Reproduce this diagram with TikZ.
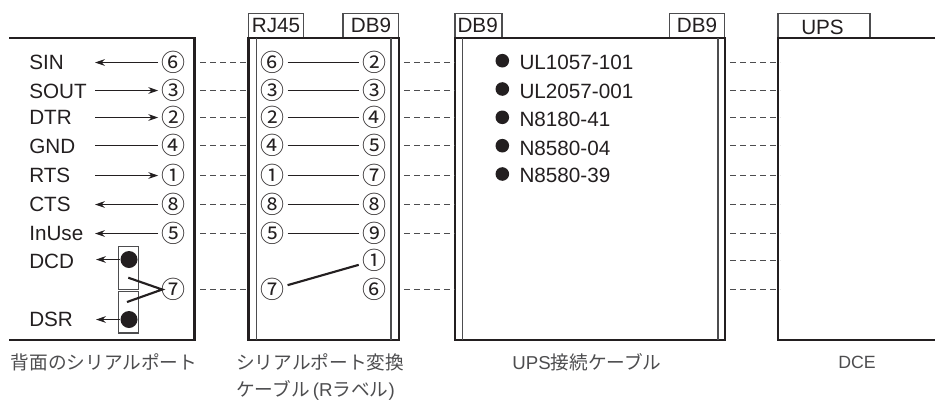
\documentclass[tikz,border=0pt]{standalone}
\usepackage{fontspec}
\setmainfont{Liberation Sans}
\newfontfamily\jpfont{Noto Sans CJK JP}
\usetikzlibrary{arrows.meta}
\definecolor{ink}{HTML}{231F20}
\definecolor{soft}{HTML}{4D4D4F}
\tikzset{
  lab/.style={anchor=base west,inner sep=0pt,text=ink,font=\fontsize{15.5pt}{18pt}\selectfont},
  cnum/.style={inner sep=0pt,minimum width=22.5pt,text=ink,text height=13.7pt,text depth=0pt,align=center,font=\jpfont\fontsize{18pt}{20pt}\selectfont},
  captext/.style={inner sep=0pt,anchor=center,text=soft,font=\jpfont\fontsize{14pt}{16pt}\selectfont},
  captextl/.style={inner sep=0pt,anchor=west,text=soft,font=\jpfont\fontsize{14pt}{16pt}\selectfont},
  boxframe/.style={draw=ink,line width=1.6pt,line join=miter},
  innerline/.style={draw=soft,line width=0.9pt},
  tabbox/.style={draw=soft,line width=0.8pt,fill=white},
  sig/.style={draw=ink,line width=0.8pt},
  sigarrow/.style={sig,-{Stealth[length=7.5pt,width=5pt]}},
  dashline/.style={draw=soft,line width=0.9pt,dash pattern=on 4.2pt off 3.3pt},
  jumper/.style={draw=ink,line width=1.6pt},
  portdot/.style={circle,fill=ink,inner sep=0pt,minimum size=12.75pt},
  listdot/.style={circle,fill=ink,inner sep=0pt,minimum size=10.2pt},
}
\begin{document}
\begin{tikzpicture}[x=0.75pt,y=-0.75pt]
\useasboundingbox (0,0) rectangle (937,400);

% tabs
\draw[tabbox] (248.5,13.5) rectangle (303.5,38);
\draw[tabbox] (343,13.5) rectangle (398.5,38);
\draw[tabbox] (455,13.5) rectangle (502,38);
\draw[tabbox] (669.5,13.5) rectangle (724.5,38);
\draw[tabbox] (778,13.5) rectangle (870,38);
\node[lab] (tRJ) at (251.7,32.3) {RJ45};
\node[lab] (tDBa) at (350.7,32.3) {DB9};
\node[lab] (tDBb) at (457.3,32.3) {DB9};
\node[lab] (tDBc) at (676.7,32.3) {DB9};
\node[lab] (tUPS) at (801,34) {UPS};

% frames
\draw[boxframe] (9,38) -- (194.5,38) -- (194.5,340) -- (9,340);
\draw[boxframe] (248.5,38) rectangle (399,340);
\draw[innerline] (256.5,38) -- (256.5,340);
\draw[innerline] (391,38) -- (391,340);
\draw[boxframe] (454.7,38) rectangle (725,340);
\draw[innerline] (462.7,38) -- (462.7,340);
\draw[innerline] (718,38) -- (718,340);
\draw[boxframe] (935,38) -- (778,38) -- (778,340) -- (935,340);

% dashed links
\foreach \n/\r in {1/62.5,2/90.5,3/117.5,4/145.5,5/175.5,6/204.5,7/233.5,9/289.5}{
  \coordinate (a\n) at (200,\r); \coordinate (b\n) at (248.5,\r);
  \coordinate (c\n) at (404,\r); \coordinate (d\n) at (454.7,\r);
  \draw[dashline] (a\n) -- (b\n);
  \draw[dashline] (c\n) -- (d\n);
}
\foreach \n/\r in {1/62.5,2/90.5,3/117.5,4/145.5,5/175.5,6/204.5,7/233.5,8/260.5,9/289.5}{
  \coordinate (e\n) at (730,\r); \coordinate (f\n) at (780,\r);
  \draw[dashline] (e\n) -- (f\n);
}

% left panel
\node[lab] (SIN) at (29,69) {SIN};
\node[lab] (SOUT) at (29,98) {SOUT};
\node[lab] (DTR) at (29,124.3) {DTR};
\node[lab] (GND) at (29,153) {GND};
\node[lab] (RTS) at (29,182) {RTS};
\node[lab] (CTS) at (29,211) {CTS};
\node[lab] (InUse) at (29,240) {InUse};
\node[lab] (DCD) at (29,268.3) {DCD};
\node[lab] (DSR) at (29,326.7) {DSR};

\foreach \n/\g/\r in {1/⑥/62.5,2/③/90.5,3/②/117.5,4/④/145.5,5/①/175.5,6/⑧/204.5,7/⑤/233.5,9/⑦/289.5}{
  \node[cnum] (p\n) at (173.5,\r) {\g};
  \node[cnum] (q\n) at (272.3,\r) {\g};
  \coordinate (s\n) at (95,\r);
}
\draw[sigarrow] (p1) -- (s1);
\draw[sigarrow] (s2) -- (p2);
\draw[sigarrow] (s3) -- (p3);
\draw[sig] (s4) -- (p4);
\draw[sigarrow] (s5) -- (p5);
\draw[sigarrow] (p6) -- (s6);
\draw[sigarrow] (p7) -- (s7);

% DCD / DSR port
\node[draw=soft,line width=0.8pt,inner sep=0pt,minimum width=15.3pt,minimum height=31.7pt] (portA) at (128.5,267.9) {};
\node[draw=soft,line width=0.8pt,inner sep=0pt,minimum width=15.3pt,minimum height=31.2pt] (portB) at (128.5,312.2) {};
\node[portdot] (dotA) at (129,259.5) {};
\node[portdot] (dotB) at (129,319.5) {};
\coordinate (dcdEnd) at (96,259.5);
\coordinate (dsrEnd) at (96,319.5);
\coordinate (vTop) at (128.3,277.7);
\coordinate (vBot) at (127,302);
\draw[sigarrow] (dotA) -- (dcdEnd);
\draw[sigarrow] (dotB) -- (dsrEnd);
\draw[jumper] (vTop) -- ([xshift=3pt]p9.west) -- (vBot);

% serial conversion cable
\foreach \n/\g/\r in {1/②/62.5,2/③/90.5,3/④/117.5,4/⑤/145.5,5/⑦/175.5,6/⑧/204.5,7/⑨/233.5,8/①/260.5,9/⑥/289.5}{
  \node[cnum] (r\n) at (374,\r) {\g};
}
\foreach \n in {1,...,7}{ \draw[sig] (q\n) -- (r\n); }
\draw[jumper] (q9) -- (r8);

% cable list
\foreach \n/\t/\dy/\by in {1/UL1057-101/60.7/69,2/UL2057-001/89/98,3/N8180-41/117.3/126,4/N8580-04/145.7/155,5/N8580-39/174/182.7}{
  \node[listdot] (ld\n) at (502.3,\dy) {};
  \node[lab] (lt\n) at (519.3,\by) {\t};
}

% captions
\node[captext] (c1) at (104,362) {背面のシリアルポート};
\node[captextl] (c2) at (236,362) {シリアルポート変換};
\node[captextl] (c3) at (236,390) {ケーブル{\normalfont\fontsize{14pt}{16pt}\selectfont\,(R}ラベル{\normalfont\fontsize{14pt}{16pt}\selectfont)}};
\node[captext] (c4) at (587,362) {{\normalfont\fontsize{14pt}{16pt}\selectfont UPS}接続ケーブル};
\node[captext] (c5) at (857,362) {\normalfont\fontsize{13.3pt}{16pt}\selectfont DCE};
\end{tikzpicture}
\end{document}
